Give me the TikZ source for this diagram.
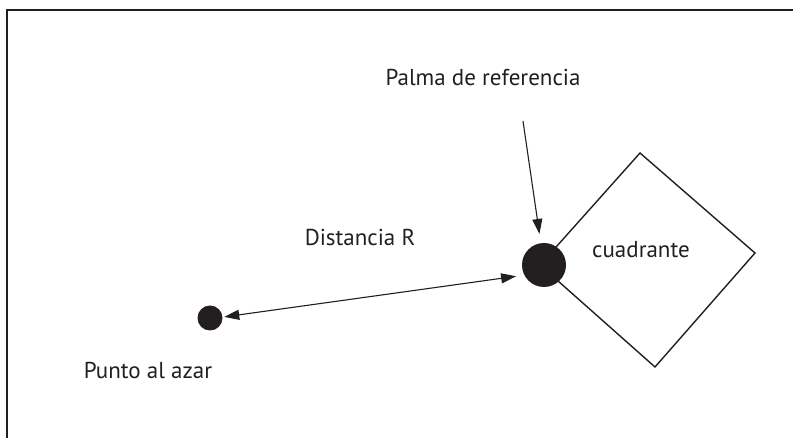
\documentclass[tikz,border=0pt]{standalone}
\usepackage{fontspec}
\setmainfont{PT Sans}
\usetikzlibrary{arrows.meta}
\definecolor{tinta}{HTML}{231F20}
\begin{document}
\begin{tikzpicture}[x=0.5pt,y=-0.5pt,
    punta/.tip={Triangle[length=7.5pt,width=5pt]},
    flecha/.style={tinta, line width=0.55pt, -punta},
    punto/.style={circle, fill=tinta, inner sep=0pt},
    texto/.style={text=tinta, inner sep=0pt, font=\fontsize{11.5}{13}\selectfont}]
    \useasboundingbox (0,0) rectangle (793,438);

    % Marco
    \draw[tinta, line width=1pt] (7,438) -- (7,10) -- (793,10);

    % Cuadrante
    \draw[tinta, line width=0.7pt] (540,265) -- (640,153) -- (755,253) -- (655,367) -- cycle;

    % Puntos
    \node[punto, minimum size=22pt] (palma) at (544,265) {};
    \node[punto, minimum size=12.5pt] (azar) at (210,318) {};

    % Textos
    \node[texto] (etqpalma) at (483,77) {Palma de referencia};
    \node[texto] (etqdist) at (360,237) {Distancia R};
    \node[texto] (etqcuad) at (641,250) {cuadrante};
    \node[texto] (etqazar) at (148,370) {Punto al azar};

    % Flechas
    \coordinate (inicio) at (523,121);
    \draw[flecha, shorten >=4.5pt] (inicio) -- (palma);
    \draw[flecha, punta-punta, shorten <=0.7pt, shorten >=4pt] (azar.4) -- (palma.207);

\end{tikzpicture}
\end{document}
